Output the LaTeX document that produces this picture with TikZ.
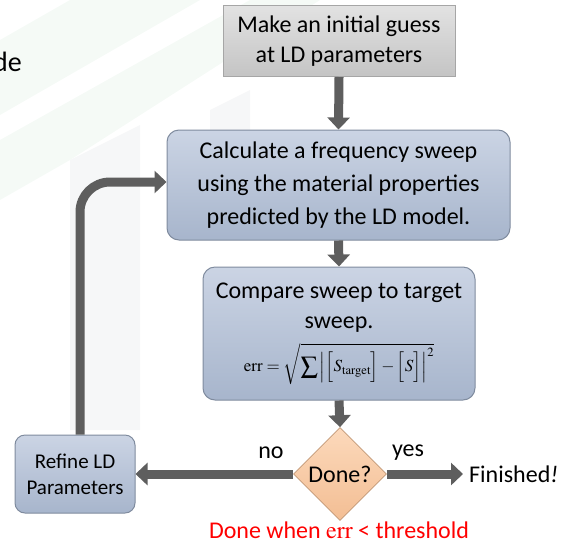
\documentclass[tikz,border=0pt]{standalone}
\usepackage{mathptmx}
\usepackage[no-math]{fontspec}
\setmainfont{Carlito}
\usetikzlibrary{arrows.meta,shapes.geometric,calc}
\definecolor{boxtop}{HTML}{CBD4E4}
\definecolor{boxbot}{HTML}{A7B5CC}
\definecolor{boxline}{HTML}{7F8B9E}
\definecolor{guesstop}{HTML}{E2E2E2}
\definecolor{guessbot}{HTML}{C4C4C4}
\definecolor{donetop}{HTML}{FCD9BB}
\definecolor{donebot}{HTML}{F3BE94}
\definecolor{flowgray}{HTML}{5E5E5E}
\definecolor{bggreen}{HTML}{F5FAF6}
\definecolor{bggray}{HTML}{F6F7F8}
\tikzset{
  stepbox/.style={rectangle, rounded corners=12pt, draw=boxline, line width=1pt,
    top color=boxtop, bottom color=boxbot, align=center, inner sep=0pt},
  guessbox/.style={rectangle, draw=gray!70, line width=1pt,
    top color=guesstop, bottom color=guessbot, align=center, inner sep=0pt},
  flow/.style={draw=flowgray, line width=9pt, -{Triangle[width=22pt,length=12pt]}},
  lbl/.style={font=\fontsize{24}{24}\selectfont, inner sep=0pt},
}
\begin{document}
\begin{tikzpicture}[x=1pt, y=-1pt]
		%%%%% START %%%%%
		\useasboundingbox (0,0) rectangle (561,544);
		
		% faint slide background
		\fill[bggreen] (0,40) -- (70,0) -- (200,0) -- (0,115) -- cycle;
		\fill[bggreen] (0,140) -- (250,0) -- (320,0) -- (70,160) -- (0,200) -- cycle;
		\fill[bggray] (70,160) -- (140,125) -- (140,430) -- (70,430) -- cycle;
		\fill[bggray] (210,110) -- (250,90) -- (250,135) -- (210,135) -- cycle;
		\node[anchor=base west, font=\fontsize{28}{28}\selectfont, inner sep=0pt] (slide) at (-7,71) {de};
		
		\node[guessbox, minimum width=232pt, minimum height=71pt,
		  font=\fontsize{24}{30}\selectfont] (guess) at (339,41) {Make an initial guess\\at LD parameters};
		\node[stepbox, minimum width=343pt, minimum height=110pt,
		  font=\fontsize{24}{33}\selectfont] (sweep) at (338.5,185) {Calculate a frequency sweep\\using the material properties\\predicted by the LD model.};
		\node[stepbox, minimum width=272pt, minimum height=133pt,
		  font=\fontsize{24}{30}\selectfont] (compare) at (339,333.5) {Compare sweep to target\\sweep.\\[10pt]
		  {\fontsize{17}{17}\selectfont$\displaystyle\mathrm{err}=\sqrt{\sum\left|\Bigl[S_{\mathrm{target}}\Bigr]-\Bigl[S\Bigr]\vphantom{\sum}\right|^{2}}$}};
		\node[diamond, minimum width=93pt, minimum height=93pt, inner sep=0pt, aspect=1,
		  draw=donebot!80!black, line width=0.6pt, top color=donetop, bottom color=donebot,
		  font=\fontsize{24}{24}\selectfont] (done) at (340,474) {Done?};
		\node[stepbox, rounded corners=10pt, minimum width=120pt, minimum height=78pt,
		  font=\fontsize{21}{26}\selectfont] (refine) at (75,474) {Refine LD\\Parameters};
		\coordinate (finend) at (463,474);
		\node[lbl, anchor=west] (fin) at (469,474) {Finished\textit{!}};
		
		% connectors
		\draw[flow] (guess.south) -- (sweep.north);
		\draw[flow] (sweep.south) -- (compare.north);
		\draw[flow] (compare.south) -- (done.north);
		\draw[flow] (done.west) -- (refine.east);
		\draw[flow] (done.east) -- (finend);
		\draw[flow, rounded corners=30pt] ($(refine.north)+(5,0)$) |- ($(sweep.west)+(0,-3)$);
		
		\node[lbl] (no) at (271,453) {no};
		\node[lbl] (yes) at (408,453) {yes};
		\node[lbl, text=red] (rule) at (339,530) {Done when $\mathrm{err}$ < threshold};
		%%%%% END %%%%%
	\end{tikzpicture}
\end{document}
